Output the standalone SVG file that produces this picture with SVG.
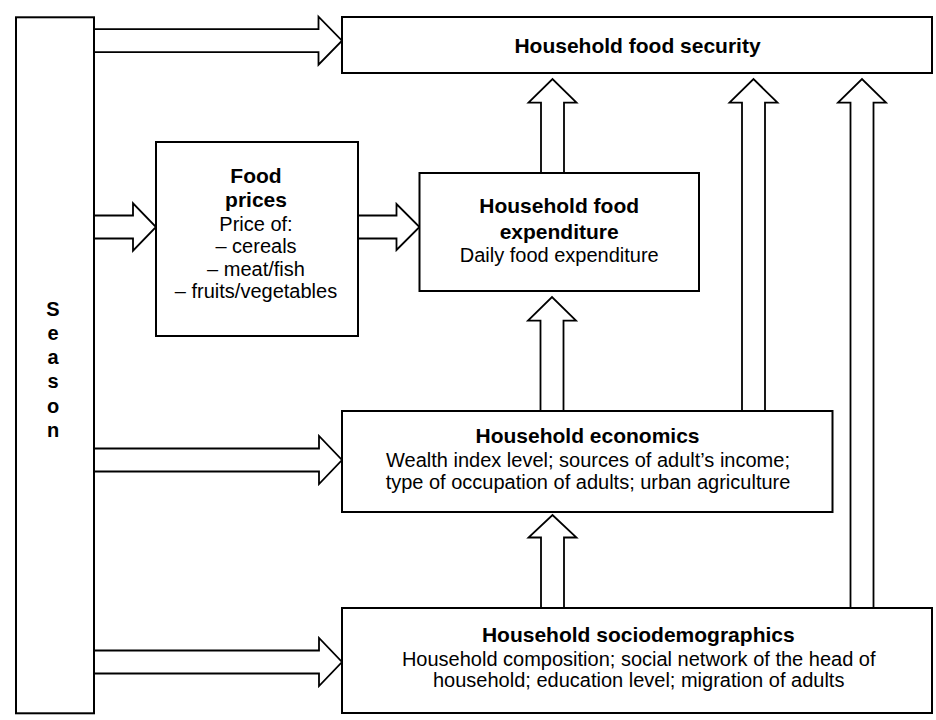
<svg xmlns="http://www.w3.org/2000/svg" width="936" height="720" viewBox="0 0 936 720">
<style>
.box{fill:#fff;stroke:#000;stroke-width:2}
.arr{fill:#fff;stroke:#000;stroke-width:1.8;stroke-linejoin:miter}
.b{font-family:"Liberation Sans",Arial,sans-serif;font-weight:bold;font-size:21px;text-anchor:middle;fill:#000}
.r{font-family:"Liberation Sans",Arial,sans-serif;font-size:20px;text-anchor:middle;fill:#000}
.s{font-family:"Liberation Sans",Arial,sans-serif;font-weight:bold;font-size:20px;text-anchor:middle;fill:#000}
</style>
<rect width="936" height="720" fill="#fff"/>
<g id="connectors">
<path class="arr" d="M94,29.2 H318.5 V16.7 L342,40.7 L318.5,64.7 V52.2 H94"/>
<path class="arr" d="M94,215.5 H133 V203.3 L156,227 L133,250.7 V238.5 H94"/>
<path class="arr" d="M94,448.5 H319 V436 L342,460 L319,484 V471.5 H94"/>
<path class="arr" d="M94,650.5 H319 V638 L342,662 L319,686 V673.5 H94"/>
<path class="arr" d="M358,215.5 H396.5 V204 L419.5,227 L396.5,250 V238.5 H358"/>
<path class="arr" d="M541,173 V102.7 H528.5 L552.5,79 L576.5,102.7 H564 V173"/>
<path class="arr" d="M540.5,411 V320.7 H528 L552,297 L576,320.7 H563.5 V411"/>
<path class="arr" d="M541,608 V537.5 H528.5 L552.5,515 L576.5,537.5 H564 V608"/>
<path class="arr" d="M742,411 V102.7 H729.5 L753.5,79 L777.5,102.7 H765 V411"/>
<path class="arr" d="M850.5,608 V102.7 H838 L862,79 L886,102.7 H873.5 V608"/>
</g>
<g id="season">
<rect class="box" x="16" y="17.3" width="78" height="696"/>
<text class="s" x="53" y="315.5">S</text>
<text class="s" x="53" y="339.5">e</text>
<text class="s" x="53" y="363.5">a</text>
<text class="s" x="53" y="388">s</text>
<text class="s" x="53" y="412.5">o</text>
<text class="s" x="53" y="437">n</text>
</g>
<g id="food-security">
<rect class="box" x="342" y="17" width="590" height="56"/>
<text class="b" x="637.5" y="53">Household food security</text>
</g>
<g id="food-prices">
<rect class="box" x="156" y="142" width="202" height="194"/>
<text class="b" x="256" y="183.3">Food</text>
<text class="b" x="256" y="207.3">prices</text>
<text class="r" x="256" y="230.7">Price of:</text>
<text class="r" x="256" y="253.3">– cereals</text>
<text class="r" x="256" y="275.7">– meat/fish</text>
<text class="r" x="256" y="298.3">– fruits/vegetables</text>
</g>
<g id="food-expenditure">
<rect class="box" x="419.5" y="173" width="279.5" height="118"/>
<text class="b" x="559.2" y="213.3">Household food</text>
<text class="b" x="559.2" y="239.3">expenditure</text>
<text class="r" x="559.2" y="261.7">Daily food expenditure</text>
</g>
<g id="economics">
<rect class="box" x="342" y="411" width="490.5" height="101"/>
<text class="b" x="587.5" y="443">Household economics</text>
<text class="r" x="588" y="467">Wealth index level; sources of adult’s income;</text>
<text class="r" x="588" y="489">type of occupation of adults; urban agriculture</text>
</g>
<g id="sociodemographics">
<rect class="box" x="342" y="608" width="590" height="105"/>
<text class="b" x="638.3" y="642">Household sociodemographics</text>
<text class="r" x="638.7" y="666">Household composition; social network of the head of</text>
<text class="r" x="638.7" y="687">household; education level; migration of adults</text>
</g>
</svg>
